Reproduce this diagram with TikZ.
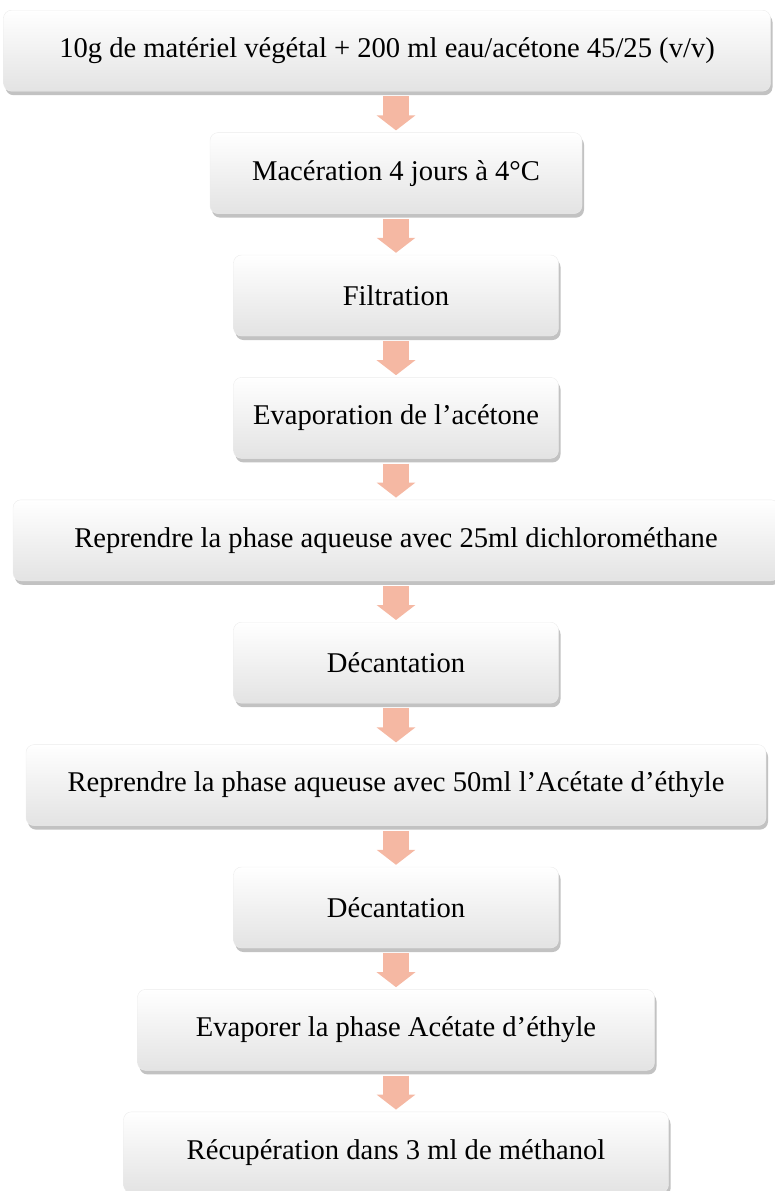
\documentclass[tikz,border=0pt]{standalone}
\usepackage{fontspec}
\setmainfont{Liberation Serif}
\usepackage{xcolor}
\usepackage{tikz}
\usetikzlibrary{arrows.meta,positioning,shadows}

\definecolor{salmon}{HTML}{F5B8A3}

\begin{document}
\begin{tikzpicture}[font=\fontsize{28.6pt}{34pt}\selectfont, node distance=41pt,
box/.style={draw=gray!15,rounded corners=8pt,align=center,minimum height=81pt,inner sep=2pt,
  top color=white,bottom color=gray!22,
  drop shadow={shadow xshift=2pt,shadow yshift=-4pt,opacity=0.6,fill=gray!80}},
flow/.style={-{Triangle[width=38pt,length=15pt]},line width=26pt,draw=salmon,shorten <=5pt,shorten >=2pt}]
\useasboundingbox (0,0) rectangle (774pt,-1191pt);
\node[box,minimum width=767pt,anchor=north] (mat) at (387pt,-10pt) {10g de matériel végétal + 200 ml eau/acétone 45/25 (v/v)};
\node[box,minimum width=372pt,below=of mat,xshift=9pt] (mac) {Macération 4 jours à 4°C};
\node[box,minimum width=325pt,below=of mac] (filt) {Filtration};
\node[box,minimum width=325pt,below=of filt] (evap) {Evaporation de l’acétone};
\node[box,minimum width=766pt,below=of evap] (dcm) {Reprendre la phase aqueuse avec 25ml dichlorométhane};
\node[box,minimum width=325pt,below=of dcm] (dec1) {Décantation};
\node[box,minimum width=740pt,below=of dec1] (acet) {Reprendre la phase aqueuse avec 50ml l’Acétate d’éthyle};
\node[box,minimum width=325pt,below=of acet] (dec2) {Décantation};
\node[box,minimum width=517pt,below=of dec2] (evapac) {Evaporer la phase Acétate d’éthyle};
\node[box,minimum width=545pt,below=of evapac] (meth) {Récupération dans 3 ml de méthanol};
\draw[flow] (mat.south -| mac) -- (mac); \draw[flow] (mac) -- (filt); \draw[flow] (filt) -- (evap);
\draw[flow] (evap) -- (dcm); \draw[flow] (dcm) -- (dec1); \draw[flow] (dec1) -- (acet);
\draw[flow] (acet) -- (dec2); \draw[flow] (dec2) -- (evapac); \draw[flow] (evapac) -- (meth);
\end{tikzpicture}
\end{document}
